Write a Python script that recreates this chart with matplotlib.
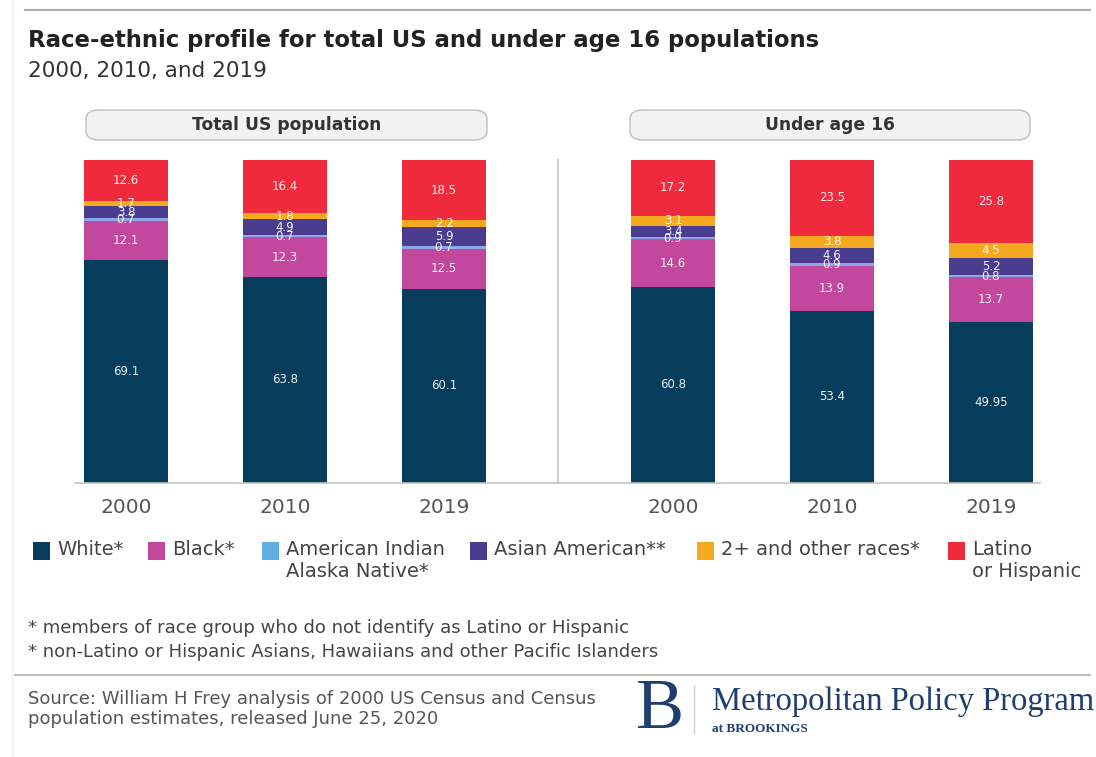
#!/usr/bin/env python3
"""
Race-ethnic profile for total US and under age 16 populations (2000, 2010, 2019)
"""

import numpy as np
import matplotlib.pyplot as plt
from matplotlib.patches import FancyBboxPatch, Rectangle
from matplotlib.lines import Line2D

# --- data (percent of population) ---
years = ['2000', '2010', '2019']
panels = ['Total US population', 'Under age 16']
groups = ['White*', 'Black*', 'American Indian\nAlaska Native*', 'Asian American**',
          '2+ and other races*', 'Latino\nor Hispanic']

total_white = [69.1, 63.8, 60.1]
total_black = [12.1, 12.3, 12.5]
total_aian = [0.7, 0.7, 0.7]
total_asian = [3.8, 4.9, 5.9]
total_multi = [1.7, 1.8, 2.2]
total_latino = [12.6, 16.4, 18.5]

u16_white = [60.8, 53.4, 49.95]
u16_black = [14.6, 13.9, 13.7]
u16_aian = [0.9, 0.9, 0.8]
u16_asian = [3.4, 4.6, 5.2]
u16_multi = [3.1, 3.8, 4.5]
u16_latino = [17.2, 23.5, 25.8]

colors = ['#063c5c', '#c4479e', '#5fafe2', '#4a3c8e', '#f5a91e', '#ee2a3c']
bar_colors = ['#063c5c', '#c4479e', '#8ea6ea', '#4a3c8e', '#f5a91e', '#ee2a3c']

W, H = 1096, 757
fig = plt.figure(figsize=(W / 100, H / 100), dpi=100)
plt.rcParams['font.family'] = ['DejaVu Sans']


def fx(px):
    return px / W


def fy(py):
    return 1 - py / H


# axes occupying the bar area (pixel 75..1040 wide, baseline 483, top 160)
ax = fig.add_axes([fx(75), fy(483), fx(1040) - fx(75), fy(160) - fy(483)])

step = 159.0
pos_left = np.arange(3)
pos_right = np.arange(3) + 229.0 / step + 2
positions = np.concatenate([pos_left, pos_right])
width = 84.0 / step

series = [
    total_white + u16_white,
    total_black + u16_black,
    total_aian + u16_aian,
    total_asian + u16_asian,
    total_multi + u16_multi,
    total_latino + u16_latino,
]

bottom = np.zeros(len(positions))
for vals, col in zip(series, bar_colors):
    vals = np.array(vals)
    ax.bar(positions, vals, width=width, bottom=bottom, color=col, linewidth=0)
    for x, b, v in zip(positions, bottom, vals):
        ax.text(x, b + v / 2, f'{v:g}', ha='center', va='center', color='white',
                fontsize=8.5, alpha=0.92)
    bottom += vals

ax.set_xlim((75 - 126) / step, (1040 - 126) / step)
ax.set_ylim(0, 100)
ax.set_xticks(positions)
ax.set_xticklabels(years + years, fontsize=14.5, color='#555555')
ax.tick_params(axis='x', length=0, pad=11)
ax.set_yticks([])
for s in ['top', 'left', 'right']:
    ax.spines[s].set_visible(False)
ax.spines['bottom'].set_color('#c4c4c4')
ax.spines['bottom'].set_linewidth(1.2)

# divider between panels
div_x = (558 - 126) / step
ax.plot([div_x, div_x], [0, 100], color='#cfcfcf', linewidth=1.5, clip_on=False)

# top rule and left edge
fig.add_artist(Line2D([fx(25), fx(1090)], [fy(10), fy(10)], color='#b0b0b0', linewidth=1.5))
fig.add_artist(Line2D([fx(12), fx(12)], [fy(0), fy(757)], color='#f0f0f0', linewidth=1.0))

# title / subtitle
fig.text(fx(28), fy(40), 'Race-ethnic profile for total US and under age 16 populations',
         fontsize=16.4, fontweight='bold', color='#222222', va='center')
fig.text(fx(28), fy(71), '2000, 2010, and 2019', fontsize=15.5, color='#333333', va='center')

# panel headers
for (x0, x1), title in zip([(86, 487), (630, 1030)], panels):
    box = FancyBboxPatch((fx(x0), fy(140)), fx(x1) - fx(x0), fy(110) - fy(140),
                         boxstyle='round,pad=0,rounding_size=0.012',
                         transform=fig.transFigure, facecolor='#f2f2f2',
                         edgecolor='#bdbdbd', linewidth=1.0)
    fig.add_artist(box)
    fig.text(fx((x0 + x1) / 2), fy(125), title, ha='center', va='center',
             fontsize=12.3, fontweight='bold', color='#333333')

# legend
leg_sq = [33, 148, 262, 470, 697, 948]
for x, g, c in zip(leg_sq, groups, colors):
    fig.add_artist(Rectangle((fx(x), fy(560)), fx(17), fy(542) - fy(560),
                             transform=fig.transFigure, facecolor=c, edgecolor='none'))
    fig.text(fx(x + 24), fy(540), g, ha='left', va='top', fontsize=14,
             color='#444444', linespacing=1.2)

# footnotes
fig.text(fx(28), fy(628), '* members of race group who do not identify as Latino or Hispanic',
         fontsize=13, color='#444444', va='center')
fig.text(fx(28), fy(652), '* non-Latino or Hispanic Asians, Hawaiians and other Pacific Islanders',
         fontsize=13, color='#444444', va='center')

fig.add_artist(Line2D([fx(15), fx(1090)], [fy(675), fy(675)], color='#c0c0c0', linewidth=1.5))

fig.text(fx(28), fy(709), 'Source: William H Frey analysis of 2000 US Census and Census\n'
         'population estimates, released June 25, 2020',
         fontsize=13, color='#555555', va='center', linespacing=1.2)

# Brookings logo text
navy = '#1f3d6e'
fig.text(fx(660), fy(710), 'B', fontsize=52, family='Liberation Serif', color=navy,
         ha='center', va='center')
fig.add_artist(Line2D([fx(694), fx(694)], [fy(686), fy(733)], color='#cccccc', linewidth=1))
fig.text(fx(712), fy(702), 'Metropolitan Policy Program', fontsize=23.5,
         family='Liberation Serif', color=navy, va='center')
fig.text(fx(712), fy(729), 'at BROOKINGS', fontsize=9.5, family='Liberation Serif',
         color=navy, va='center', fontweight='bold')

fig.savefig('out.png', dpi=100)
